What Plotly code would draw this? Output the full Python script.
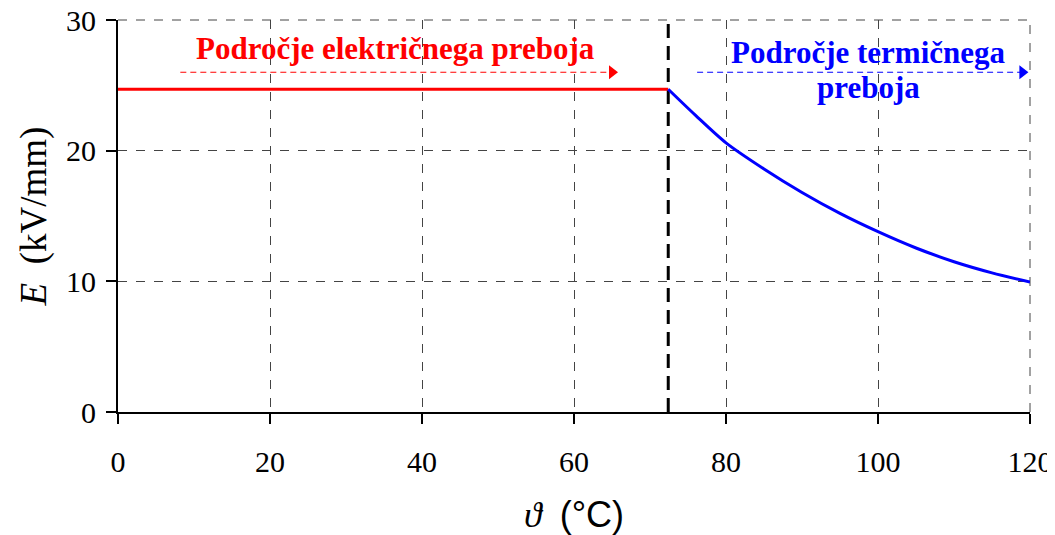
import plotly.graph_objects as go

# Data
elec_x = [0, 72.4]
elec_E = [24.7, 24.7]
therm_x = [72.4, 76, 80, 85, 90, 95, 100, 105, 110, 115, 120]
therm_E = [24.7, 22.7, 20.6, 18.6, 16.8, 15.2, 13.8, 12.55, 11.5, 10.65, 9.95]
boundary_x = 72.4
x_ticks = [0, 20, 40, 60, 80, 100, 120]
y_ticks = [0, 10, 20, 30]
red_arrow_x = [8.2, 65.0]
blue_arrow_x = [76.2, 119.0]
arrow_y = 26.0

fig = go.Figure()

fig.add_trace(go.Scatter(x=[boundary_x, boundary_x], y=[0, 30], mode="lines",
                         line=dict(color="black", width=3, dash="14px,8px"), hoverinfo="skip"))

fig.add_trace(go.Scatter(x=elec_x, y=elec_E, mode="lines",
                         line=dict(color="#ff0000", width=3), hoverinfo="skip"))
fig.add_trace(go.Scatter(x=therm_x, y=therm_E, mode="lines", line_shape="spline",
                         line=dict(color="#0000ff", width=3, smoothing=0.8), hoverinfo="skip"))

for xs, col in [(red_arrow_x, "#ff0000"), (blue_arrow_x, "#0000ff")]:
    fig.add_trace(go.Scatter(x=xs, y=[arrow_y, arrow_y], mode="lines",
                             line=dict(color=col, width=1.2, dash="6px,4px"), hoverinfo="skip"))
    fig.add_trace(go.Scatter(x=[xs[1]], y=[arrow_y], mode="markers",
                             marker=dict(symbol="triangle-right", size=12, color=col),
                             hoverinfo="skip"))

fig.add_annotation(x=36.55, y=27.85, text="<b>Področje električnega preboja</b>",
                   showarrow=False, font=dict(family="Liberation Serif", size=31, color="#ff0000"))
fig.add_annotation(x=98.8, y=27.55, text="<b>Področje termičnega</b>",
                   showarrow=False, font=dict(family="Liberation Serif", size=31, color="#0000ff"))
fig.add_annotation(x=98.8, y=24.8, text="<b>preboja</b>",
                   showarrow=False, font=dict(family="Liberation Serif", size=31, color="#0000ff"))

# dashed frame on top and right edges (grid lines at the range ends)
grid_style = dict(color="#444444", width=1, dash="dash")
fig.add_shape(type="line", xref="paper", yref="paper", x0=0, x1=1, y0=1, y1=1, line=grid_style, layer="below")
fig.add_shape(type="line", xref="paper", yref="paper", x0=1, x1=1, y0=0, y1=1, line=grid_style, layer="below")

fig.update_layout(
    width=1047, height=527,
    margin=dict(l=110, r=25, t=12, b=123),
    paper_bgcolor="white", plot_bgcolor="white",
    showlegend=False,
    font=dict(family="Liberation Serif", size=30, color="black"),
    xaxis=dict(range=[0, 120], tickvals=x_ticks, showgrid=True, gridcolor="#444444",
               griddash="dash", gridwidth=1, zeroline=False, showline=True, linecolor="black",
               linewidth=2, ticks="outside", ticklen=10, tickwidth=2, tickcolor="black",
               ticklabelstandoff=12, automargin=False, ticklabeloverflow="allow",
               title=dict(text="<i>ϑ</i>  <span style='font-family:Liberation Sans'>(°C)</span>",
                          font=dict(size=36), standoff=25)),
    yaxis=dict(range=[0, 30], tickvals=y_ticks, showgrid=True, gridcolor="#444444",
               griddash="dash", gridwidth=1, zeroline=False, showline=True, linecolor="black",
               linewidth=2, ticks="outside", ticklen=10, tickwidth=2, tickcolor="black",
               ticklabelstandoff=4, automargin=False, ticklabeloverflow="allow",
               title=dict(text="<i>E</i>  (kV/mm)", font=dict(size=37), standoff=8)),
)

fig.write_html("out.html")
